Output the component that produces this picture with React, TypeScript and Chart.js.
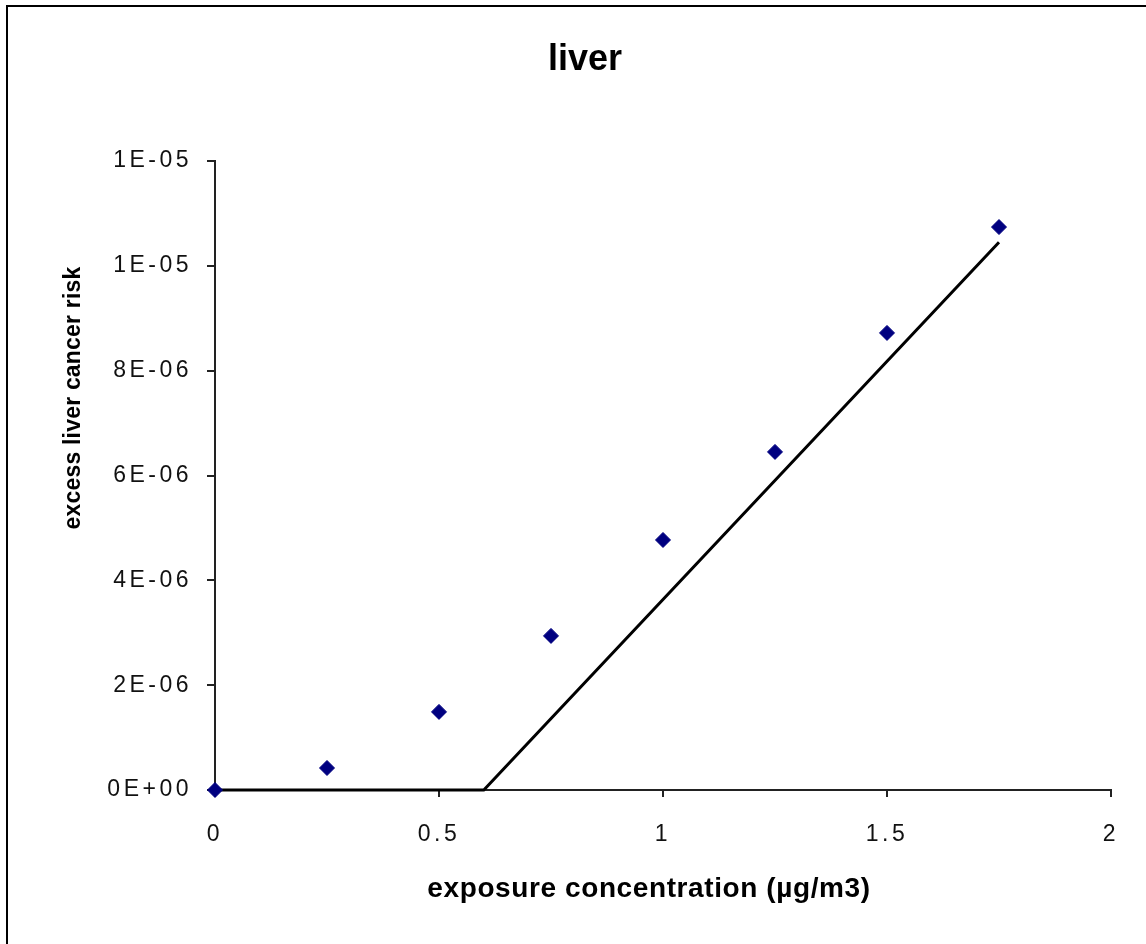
import React, { useEffect, useRef } from 'react';
import { Chart, registerables } from 'chart.js';

Chart.register(...registerables);

// ---- data ----
const pointX = [0, 0.25, 0.5, 0.75, 1, 1.25, 1.5, 1.75];
const pointY = [0, 0.42e-6, 1.49e-6, 2.94e-6, 4.77e-6, 6.45e-6, 8.72e-6, 10.74e-6];
const lineX = [0, 0.6, 1.75];
const lineY = [0, 0, 1.045e-5];
const xTickValues = [0, 0.5, 1, 1.5, 2];
const xTickLabels = ['0', '0.5', '1', '1.5', '2'];
const yTickValues = [0, 2e-6, 4e-6, 6e-6, 8e-6, 1e-5, 1.2e-5];
const yTickLabels = ['0E+00', '2E-06', '4E-06', '6E-06', '8E-06', '1E-05', '1E-05'];
const chartTitle = 'liver';
const xAxisTitle = 'exposure concentration (µg/m3)';
const yAxisTitle = 'excess liver cancer risk';

const FONT = '"Liberation Sans", Arial, sans-serif';

const decorPlugin = {
  id: 'decor',
  beforeDraw(chart: any) {
    const ctx = chart.ctx;
    ctx.save();
    ctx.fillStyle = '#ffffff';
    ctx.fillRect(0, 0, chart.width, chart.height);
    ctx.restore();
    ctx.letterSpacing = '3.5px';
  },
  afterDraw(chart: any) {
    const ctx = chart.ctx;
    const area = chart.chartArea;
    ctx.letterSpacing = '0px';
    ctx.save();
    // outer frame
    ctx.strokeStyle = '#000';
    ctx.lineWidth = 2;
    ctx.strokeRect(7, 6, chart.width, chart.height);
    ctx.fillStyle = '#000';
    // main title
    ctx.font = `bold 36px ${FONT}`;
    ctx.textAlign = 'center';
    ctx.textBaseline = 'alphabetic';
    ctx.fillText(chartTitle, (area.left + area.right) / 2 - 78, 70);
    // x axis title
    ctx.letterSpacing = '0.6px';
    ctx.font = `bold 28px ${FONT}`;
    ctx.fillText(xAxisTitle, (area.left + area.right) / 2 - 14, 897);
    // y axis title
    ctx.letterSpacing = '0.2px';
    ctx.font = `bold 23px ${FONT}`;
    ctx.translate(80, 398);
    ctx.rotate(-Math.PI / 2);
    ctx.fillText(yAxisTitle, 0, 0);
    ctx.restore();
    ctx.letterSpacing = '0px';
  },
};

export default function App() {
  const ref = useRef<HTMLCanvasElement | null>(null);

  useEffect(() => {
    if (!ref.current) return;
    const chart = new Chart(ref.current, {
      type: 'scatter',
      data: {
        datasets: [
          {
            label: 'observed',
            data: pointX.map((x, i) => ({ x, y: pointY[i] })),
            backgroundColor: '#000080',
            borderColor: '#000080',
            pointStyle: 'rectRot',
            pointRadius: 7.5,
            pointBorderWidth: 1,
            clip: false,
            order: 0,
          },
          {
            label: 'fit',
            data: lineX.map((x, i) => ({ x, y: lineY[i] })),
            showLine: true,
            borderColor: '#000000',
            borderWidth: 3,
            pointRadius: 0,
            pointHoverRadius: 0,
            clip: false,
            order: 1,
          } as any,
        ],
      },
      options: {
        animation: false,
        responsive: false,
        devicePixelRatio: 1,
        events: [],
        layout: { padding: { left: 0, top: 161, right: 35, bottom: 0 } },
        plugins: {
          legend: { display: false },
          title: { display: false },
          tooltip: { enabled: false },
        },
        scales: {
          x: {
            type: 'linear',
            min: 0,
            max: 2,
            afterFit: (s: any) => {
              s.height = 154;
            },
            afterBuildTicks: (s: any) => {
              s.ticks = xTickValues.map((v) => ({ value: v }));
            },
            ticks: {
              color: '#111',
              font: { family: FONT, size: 23 },
              padding: 24,
              maxRotation: 0,
              autoSkip: false,
              callback: (_v: any, i: number) => xTickLabels[i],
            },
            grid: {
              display: true,
              drawOnChartArea: false,
              drawTicks: true,
              tickLength: 7,
              color: '#222',
              lineWidth: 2,
            },
            border: { display: true, color: '#222', width: 2 },
          },
          y: {
            type: 'linear',
            min: 0,
            max: 1.2e-5,
            afterFit: (s: any) => {
              s.width = 215;
            },
            afterBuildTicks: (s: any) => {
              s.ticks = yTickValues.map((v) => ({ value: v }));
            },
            ticks: {
              color: '#111',
              font: { family: FONT, size: 23 },
              padding: 15,
              autoSkip: false,
              callback: (_v: any, i: number) => yTickLabels[i],
            },
            grid: {
              display: true,
              drawOnChartArea: false,
              drawTicks: true,
              tickLength: 8,
              color: '#222',
              lineWidth: 2,
            },
            border: { display: true, color: '#222', width: 2 },
          },
        },
      },
      plugins: [decorPlugin],
    });
    return () => chart.destroy();
  }, []);

  return (
    <div style={{ position: 'absolute', left: 0, top: 0, width: 1146, height: 944, background: '#fff' }}>
      <canvas ref={ref} width={1146} height={944} style={{ width: 1146, height: 944, display: 'block' }} />
    </div>
  );
}
